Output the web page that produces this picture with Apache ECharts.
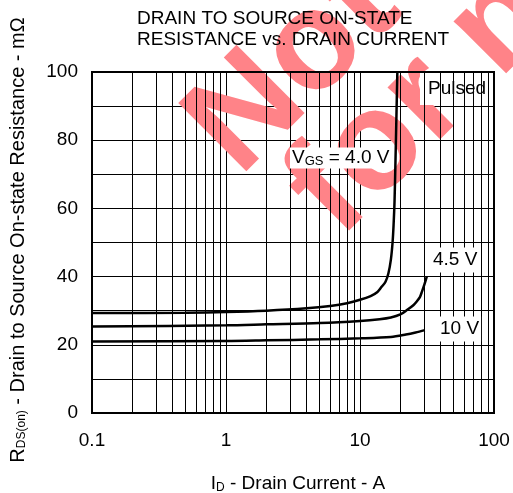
<!DOCTYPE html>
<html>
<head>
<meta charset="UTF-8">
<title></title>
<script src="https://cdn.jsdelivr.net/npm/echarts@6/dist/echarts.min.js"></script>
<style>
html, body { margin: 0; padding: 0; background: #fff; }
#main { width: 513px; height: 493px; }
</style>
</head>
<body>
<div id="main"></div>
<script>
// axis ticks
var yTicks = [0, 20, 40, 60, 80, 100];
var xMinor = [0.2, 0.3, 0.4, 0.5, 0.6, 0.7, 0.8, 0.9,
	2, 3, 4, 5, 6, 7, 8, 9,
	20, 30, 40, 50, 60, 70, 80, 90];

// VGS = 4.0 V
var id40 = [0.1, 0.5, 1, 2, 4, 6, 8, 10, 12, 13.5, 14.5, 15.5, 16.3, 17, 17.5, 17.8, 18.1, 18.4, 18.7, 19.0];
var r40 = [29.3, 29.4, 29.6, 30.0, 30.7, 31.4, 32.2, 33.2, 34.3, 35.5, 37, 38.5, 41, 45, 50, 55, 62, 74, 87, 100];
// VGS = 4.5 V
var id45 = [0.1, 1, 2, 5, 10, 14, 17, 20, 22.4, 25, 26.5, 28, 29, 30.3, 31.5];
var r45 = [25.4, 25.7, 26.0, 26.4, 27.0, 27.5, 28.0, 28.9, 30.2, 31.6, 32.7, 34, 35.6, 37.8, 40];
// VGS = 10 V
var id10 = [0.1, 1, 2, 5, 10, 17, 22, 26, 30.5];
var r10 = [21.0, 21.1, 21.3, 21.6, 21.9, 22.3, 23.0, 23.6, 24.3];

var font = "'Liberation Sans', Arial, sans-serif";

function pairs(xs, ys) {
	return xs.map(function(x, i) { return [x, ys[i]]; });
}

function curve(name, xs, ys) {
	return {
		name: name,
		type: 'line',
		data: pairs(xs, ys),
		showSymbol: false,
		smooth: 0.3,
		z: 3,
		lineStyle: { color: '#000', width: 2.5 }
	};
}

var myChart = echarts.init(document.getElementById('main'));

var option = {
	animation: false,
	backgroundColor: '#fff',
	grid: {
		left: 92, top: 72, width: 402, height: 341,
		show: true, borderColor: '#000', borderWidth: 2,
		backgroundColor: 'transparent', z: 4,
		outerBoundsMode: 'none'
	},
	xAxis: {
		type: 'log', logBase: 10, min: 0.1, max: 100,
		axisLine: { show: false },
		axisTick: { show: false },
		axisLabel: { color: '#000', fontSize: 19, fontFamily: font, margin: 18 },
		splitLine: { show: true, lineStyle: { color: '#000', width: 1 } }
	},
	yAxis: {
		type: 'value', min: 0, max: 100, interval: 10,
		axisLine: { show: false },
		axisTick: { show: false },
		axisLabel: {
			color: '#000', fontSize: 19, fontFamily: font, margin: 14,
			formatter: function(v) { return yTicks.indexOf(v) >= 0 ? String(v) : ''; }
		},
		splitLine: { show: true, lineStyle: { color: '#000', width: 1 } }
	},
	series: [
		{
			// minor grid lines of the log axis
			type: 'line', data: [], z: 0, silent: true,
			markLine: {
				silent: true, symbol: 'none', animation: false,
				label: { show: false },
				lineStyle: { color: '#000', width: 1, type: 'solid' },
				data: xMinor.map(function(v) { return { xAxis: v }; })
			}
		},
		curve('4.0 V', id40, r40),
		curve('4.5 V', id45, r45),
		curve('10 V', id10, r10)
	],
	graphic: [
		// watermark
		{
			type: 'text', z: 1, silent: true, rotation: Math.PI / 4,
			x: 262, y: 200,
			style: { text: 'Not recommended', fill: '#ff8388', font: 'bold 140px ' + font, textVerticalAlign: 'bottom' }
		},
		{
			type: 'text', z: 1, silent: true, rotation: Math.PI / 4,
			x: 362, y: 262,
			style: { text: 'for new design', fill: '#ff8388', font: 'bold 140px ' + font, textVerticalAlign: 'bottom' }
		},
		// title
		{
			type: 'text', left: 137, top: 8, z: 5,
			style: {
				text: 'DRAIN TO SOURCE ON-STATE\nRESISTANCE vs. DRAIN CURRENT',
				fill: '#000', font: '19px ' + font, lineHeight: 21
			}
		},
		// axis names
		{
			type: 'text', x: 298, y: 484, z: 5,
			style: {
				text: 'I{s|D} - Drain Current - A', fill: '#000', font: '19px ' + font,
				align: 'center', verticalAlign: 'middle',
				rich: { s: { fontSize: 12, fontFamily: font, fill: '#000', verticalAlign: 'bottom', padding: [6, 0, 0, 0] } }
			}
		},
		{
			type: 'text', x: 18, y: 240, z: 5, rotation: Math.PI / 2,
			style: {
				text: 'R{s|DS(on)} - Drain to Source On-state Resistance - m\u03A9', fill: '#000', font: '20px ' + font,
				align: 'center', verticalAlign: 'middle',
				rich: { s: { fontSize: 12, fontFamily: font, fill: '#000', verticalAlign: 'bottom', padding: [6, 0, 0, 0] } }
			}
		},
		// in-plot labels
		{ type: 'rect', z: 5, shape: { x: 420, y: 73, width: 73, height: 32 }, style: { fill: '#fff' } },
		{
			type: 'text', x: 428, y: 89, z: 6,
			style: { text: 'Pulsed', fill: '#000', font: '19px ' + font, verticalAlign: 'middle' }
		},
		{
			type: 'text', x: 290, y: 158, z: 6,
			style: {
				text: 'V{s|GS} = 4.0 V', fill: '#000', font: '19px ' + font, verticalAlign: 'middle',
				backgroundColor: '#fff', padding: [1, 2],
				rich: { s: { fontSize: 13, fontFamily: font, fill: '#000', verticalAlign: 'bottom', padding: [5, 0, 0, 0] } }
			}
		},
		{
			type: 'text', x: 431, y: 260, z: 6,
			style: { text: '4.5 V', fill: '#000', font: '19px ' + font, verticalAlign: 'middle', backgroundColor: '#fff', padding: [3, 2] }
		},
		{
			type: 'text', x: 438, y: 329, z: 6,
			style: { text: '10 V', fill: '#000', font: '19px ' + font, verticalAlign: 'middle', backgroundColor: '#fff', padding: [3, 2] }
		}
	]
};

myChart.setOption(option);
</script>
</body>
</html>
